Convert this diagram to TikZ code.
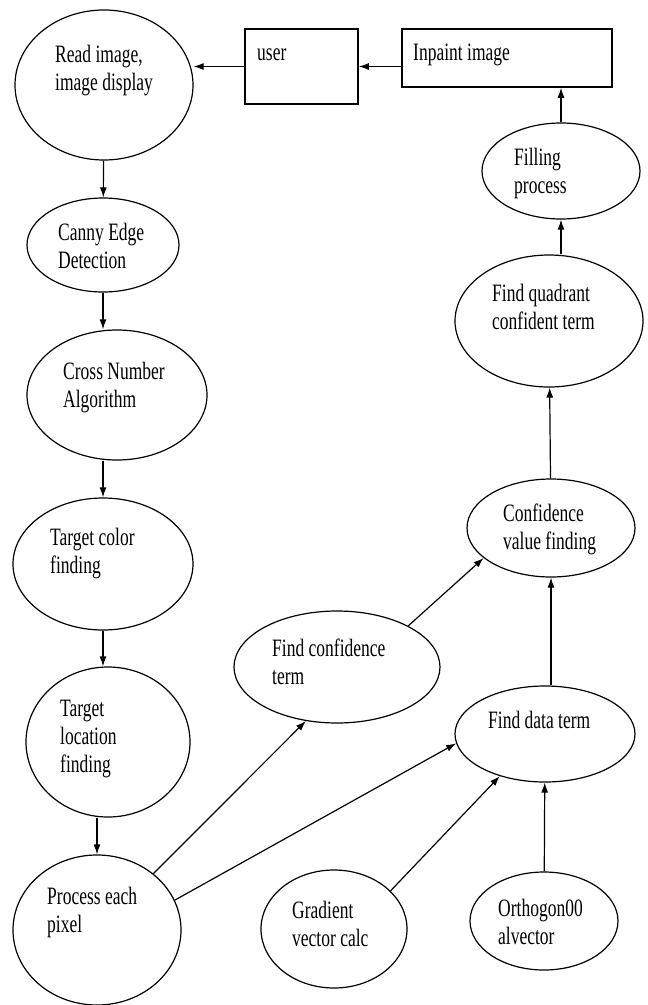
\documentclass[tikz,border=0pt]{standalone}
\usepackage{fontspec}
\setmainfont{Liberation Serif}[FakeStretch=0.7]
\usetikzlibrary{shapes.geometric}
\usetikzlibrary{arrows.meta}
\newcommand{\lblfont}{\fontsize{25}{28}\selectfont}
\tikzset{
  blob/.style={ellipse, draw, line width=1.2pt},
  box/.style={rectangle, draw, line width=1.6pt},
  lbl/.style={inner sep=0pt, anchor=base west, align=left, font=\lblfont},
  flow/.style={-{Latex[length=10pt,width=7pt]}, line width=1.2pt},
}

\begin{document}
\begin{tikzpicture}[x=1pt, y=-1pt]
\useasboundingbox (0,0) rectangle (648,1005);

  % left column
  \node[blob, minimum width=178pt, minimum height=150pt] (read) at (104,85) {};
  \node[lbl] (readt) at (55,90) {Read image,\\image display};

  \node[blob, minimum width=152pt, minimum height=94pt] (canny) at (103,245) {};
  \node[lbl] (cannyt) at (58,268) {Canny Edge\\Detection};

  \node[blob, minimum width=180pt, minimum height=130pt] (cross) at (117,395) {};
  \node[lbl] (crosst) at (63,407) {Cross Number\\Algorithm};

  \node[blob, minimum width=180pt, minimum height=132pt] (tcolor) at (103,564) {};
  \node[lbl] (tcolort) at (50,573) {Target color\\finding};

  \node[blob, minimum width=164pt, minimum height=150pt] (tloc) at (108,742) {};
  \node[lbl] (tloct) at (60,772) {Target\\location\\finding};

  \node[blob, minimum width=168pt, minimum height=150pt] (pixel) at (97,930) {};
  \node[lbl] (pixelt) at (47,932) {Process each\\pixel};

  % boxes on top
  \node[box, minimum width=113pt, minimum height=75pt] (user) at (301.5,66.5) {};
  \node[lbl] (usert) at (257,60) {user};

  \node[box, minimum width=210pt, minimum height=58pt] (inpaint) at (507,58) {};
  \node[lbl] (inpaintt) at (413,60) {Inpaint image};

  % middle and right column
  \node[blob, minimum width=206pt, minimum height=112pt] (fconf) at (337,667) {};
  \node[lbl] (fconft) at (272,684) {Find confidence\\term};

  \node[blob, minimum width=146pt, minimum height=118pt] (gradient) at (334,929) {};
  \node[lbl] (gradientt) at (292,946) {Gradient\\vector calc};

  \node[blob, minimum width=180pt, minimum height=96pt] (fdata) at (545,734) {};
  \node[lbl] (fdatat) at (488,728) {Find data term};

  \node[blob, minimum width=148pt, minimum height=98pt] (ortho) at (544,921) {};
  \node[lbl] (orthot) at (498,944) {Orthogon00\\alvector};

  \node[blob, minimum width=168pt, minimum height=98pt] (confval) at (551,528) {};
  \node[lbl] (confvalt) at (503,549) {Confidence\\value finding};

  \node[blob, minimum width=188pt, minimum height=132pt] (quad) at (549,321) {};
  \node[lbl] (quadt) at (492,329) {Find quadrant\\confident term};

  \node[blob, minimum width=158pt, minimum height=96pt] (filling) at (561,171) {};
  \node[lbl] (fillingt) at (514,193) {Filling\\process};

  % connectors
  \draw[flow] (read) -- (canny);
  \draw[flow] (canny.south) -- (canny.south |- cross.north);
  \draw[flow] (tcolor.north |- cross.south) -- (tcolor.north);
  \draw[flow] (tcolor.south) -- (tcolor.south |- tloc.north);
  \draw[flow] (pixel.north |- tloc.south) -- (pixel.north);
  \draw[flow] (pixel.45) -- (fconf.240);
  \draw[flow] (pixel.21) -- (fdata.186);
  \draw[flow] (gradient.34) -- (fdata.223);
  \draw[flow] (ortho) -- (fdata);
  \draw[flow] (fconf.30) -- (confval.204);
  \draw[flow] (confval.south |- fdata.north) -- (confval.south);
  \draw[flow] (confval) -- (quad);
  \draw[flow] (filling.south |- quad.north) -- (filling.south);
  \draw[flow] (filling.north) -- (filling.north |- inpaint.south);
  \draw[flow] (user.east -| inpaint.west) -- (user.east);
  \draw[flow] (user.west) -- (user.west -| read.east);

\end{tikzpicture}
\end{document}
